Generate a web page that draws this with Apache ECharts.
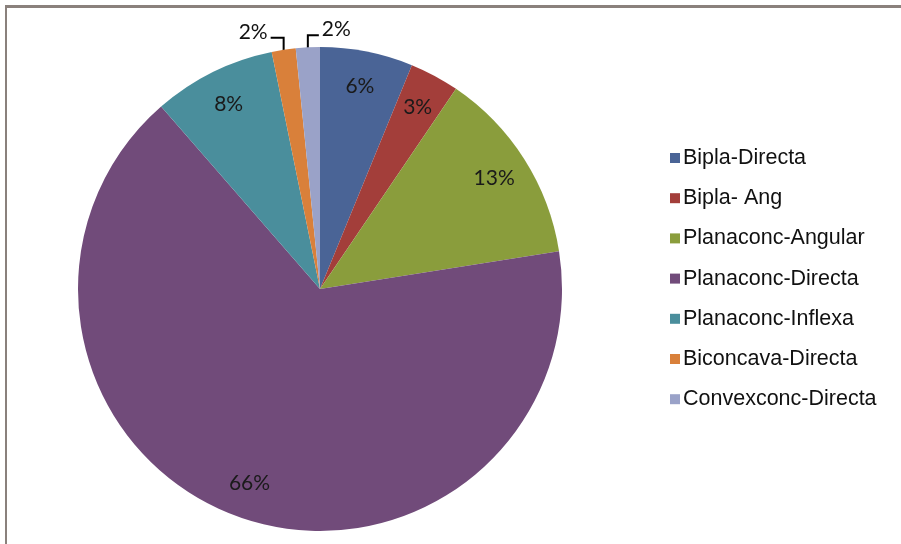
<!DOCTYPE html>
<html><head><meta charset="utf-8">
<script src="https://cdn.jsdelivr.net/npm/echarts@6/dist/echarts.min.js"></script>
<style>html,body{margin:0;padding:0;background:#fff;}#frame{position:absolute;left:5px;top:5px;width:910px;height:560px;border-left:2px solid #8a817c;border-top:3px solid #8a817c;box-sizing:border-box;}#c{position:absolute;left:0;top:0;width:901px;height:544px;}</style>
</head><body><div id="frame"></div><div id="c"></div>
<script>
const categories = ['Bipla-Directa','Bipla- Ang','Planaconc-Angular','Planaconc-Directa','Planaconc-Inflexa','Biconcava-Directa','Convexconc-Directa'];
const values = [6.2, 3.3, 13.0, 66.1, 8.2, 1.6, 1.6];
const colors = ['#4A6496','#A33E3A','#8A9D3C','#714B7A','#4A8E9C','#D9803A','#9AA2C8'];
const smallIdx = [5, 6];

const chart = echarts.init(document.getElementById('c'), null, {renderer:'canvas'});
const cx = 320, cy = 289, R = 242;
const mainData = categories.map((n,i)=>({name:n, value:values[i], itemStyle:{color:colors[i]},
  label:{show: smallIdx.includes(i)}, labelLine:{show: smallIdx.includes(i)}}));
const labelData = categories.map((n,i)=>({name:n, value:values[i],
  label:{show: !smallIdx.includes(i)}}));
const fmt = p => Math.round(p.percent) + '%';
chart.setOption({
  animation:false,
  legend:{orient:'vertical', left:665, top:142, itemGap:18.2, itemWidth:10, itemHeight:10, icon:'rect',
    data:categories, textStyle:{fontFamily:'Liberation Sans, Arial', fontSize:21.5, lineHeight:21.5, color:'#111', padding:[0,0,0,-2]}},
  series:[
    {type:'pie', center:[cx,cy], radius:R, startAngle:90, clockwise:true, data:mainData, silent:true,
      label:{position:'outside', formatter:fmt, fontFamily:'Lato, Open Sans', fontSize:21, color:'#111'},
      labelLine:{length:10, length2:10, lineStyle:{color:'#000', width:2}},
      labelLayout: function(p){
        const pts = p.labelLinePoints; if(!pts) return {};
        const s = pts[0];
        const midY = s[1] - 12;
        if (p.dataIndex === 5) {
          const endX = s[0] - 13;
          return {x: endX - 3, y: midY - 6, align:'right', verticalAlign:'middle',
            labelLinePoints:[[s[0], s[1]+2],[s[0], midY],[endX, midY]]};
        } else {
          const endX = s[0] + 11;
          return {x: endX + 3, y: midY - 6, align:'left', verticalAlign:'middle',
            labelLinePoints:[[s[0], s[1]+2],[s[0], midY],[endX, midY]]};
        }
      }
    },
    {type:'pie', center:[cx,cy], radius:[R*0.68, R], startAngle:90, clockwise:true, data:labelData, silent:true,
      itemStyle:{color:'rgba(0,0,0,0)'}, legendHoverLink:false,
      label:{position:'inside', formatter:fmt, fontFamily:'Lato, Open Sans', fontSize:21, color:'#1a1a1a'},
      labelLine:{show:false}}
  ]
});
</script></body></html>
